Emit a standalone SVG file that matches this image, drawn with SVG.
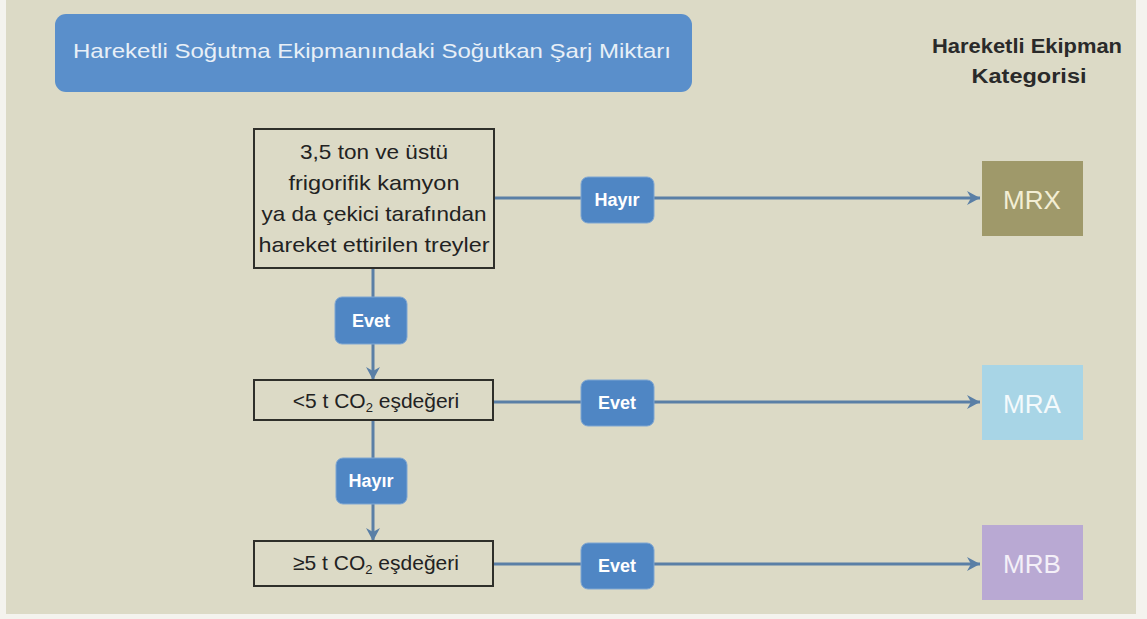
<svg xmlns="http://www.w3.org/2000/svg" width="1147" height="619" viewBox="0 0 1147 619">
<defs>
<style>
.bg{fill:#dcdac6}
.box{fill:#dcdac6;stroke:#2f2f2a;stroke-width:2}
.t{font-family:"Liberation Sans",Arial,sans-serif;fill:#222;font-size:21px;text-anchor:middle}
.h{font-family:"Liberation Sans",Arial,sans-serif;fill:#2a2a2a;font-size:20px;font-weight:bold;text-anchor:middle}
.badge{fill:#4f86c4;stroke:#7fa6d2;stroke-width:1}
.bt{font-family:"Liberation Sans",Arial,sans-serif;fill:#ffffff;font-size:18px;font-weight:bold;text-anchor:middle}
.cat{font-family:"Liberation Sans",Arial,sans-serif;font-size:26px;text-anchor:middle}
.ln{stroke:#5a7fa6;stroke-width:3;fill:none}
</style>
<marker id="ah" markerUnits="userSpaceOnUse" markerWidth="18" markerHeight="18" refX="14" refY="8" orient="auto">
<path d="M1,1 L14,8 L1,15 L5,8 Z" fill="#5a7fa6"/>
</marker>
</defs>
<rect x="0" y="0" width="1147" height="619" fill="#f4f3ee"/>
<rect class="bg" x="6" y="0" width="1130" height="614"/>

<g id="connectors">
<line class="ln" x1="494" y1="198" x2="980" y2="198" marker-end="url(#ah)"/>
<line class="ln" x1="494" y1="402" x2="980" y2="402" marker-end="url(#ah)"/>
<line class="ln" x1="494" y1="564" x2="980" y2="564" marker-end="url(#ah)"/>
<line class="ln" x1="373" y1="268" x2="373" y2="380" marker-end="url(#ah)"/>
<line class="ln" x1="373" y1="420" x2="373" y2="541" marker-end="url(#ah)"/>
</g>

<g id="title">
<rect x="55" y="14" width="637" height="78" rx="11" fill="#5a8fcb"/>
<text x="372" y="58" font-family="'Liberation Sans',Arial,sans-serif" font-size="21" fill="#e8eff7" text-anchor="middle" textLength="598" lengthAdjust="spacingAndGlyphs">Hareketli Soğutma Ekipmanındaki Soğutkan Şarj Miktarı</text>
</g>

<g id="category-header">
<text class="h" x="1027" y="53" textLength="190" lengthAdjust="spacingAndGlyphs">Hareketli Ekipman</text>
<text class="h" x="1029" y="83" textLength="115" lengthAdjust="spacingAndGlyphs">Kategorisi</text>
</g>

<g id="q1">
<rect class="box" x="254" y="129" width="240" height="139"/>
<text class="t" x="374" y="159" textLength="148" lengthAdjust="spacingAndGlyphs">3,5 ton ve üstü</text>
<text class="t" x="374" y="190" textLength="171" lengthAdjust="spacingAndGlyphs">frigorifik kamyon</text>
<text class="t" x="374" y="221" textLength="225" lengthAdjust="spacingAndGlyphs">ya da çekici tarafından</text>
<text class="t" x="374" y="252" textLength="231" lengthAdjust="spacingAndGlyphs">hareket ettirilen treyler</text>
</g>

<g id="q2">
<rect class="box" x="254" y="380" width="239" height="40"/>
<text class="t" x="376" y="408">&lt;5 t CO<tspan font-size="13" dy="4">2</tspan><tspan dy="-4"> eşdeğeri</tspan></text>
</g>

<g id="q3">
<rect class="box" x="254" y="541" width="239" height="45"/>
<text class="t" x="376" y="570">≥5 t CO<tspan font-size="13" dy="4">2</tspan><tspan dy="-4"> eşdeğeri</tspan></text>
</g>

<g id="b-hayir1">
<rect class="badge" x="581" y="177" width="73" height="46" rx="7"/>
<text class="bt" x="617" y="206">Hayır</text>
</g>
<g id="b-evet1">
<rect class="badge" x="335" y="297" width="72" height="47" rx="7"/>
<text class="bt" x="371" y="327">Evet</text>
</g>
<g id="b-evet2">
<rect class="badge" x="581" y="380" width="73" height="46" rx="7"/>
<text class="bt" x="617" y="409">Evet</text>
</g>
<g id="b-hayir2">
<rect class="badge" x="336" y="458" width="71" height="46" rx="7"/>
<text class="bt" x="371" y="487">Hayır</text>
</g>
<g id="b-evet3">
<rect class="badge" x="581" y="543" width="73" height="46" rx="7"/>
<text class="bt" x="617" y="572">Evet</text>
</g>

<g id="mrx">
<rect x="982" y="161" width="101" height="75" fill="#9f996a"/>
<text class="cat" x="1032" y="209" fill="#f3eed4">MRX</text>
</g>
<g id="mra">
<rect x="982" y="365" width="101" height="75" fill="#a8d5e6"/>
<text class="cat" x="1032" y="413" fill="#f4fafc">MRA</text>
</g>
<g id="mrb">
<rect x="982" y="525" width="101" height="75" fill="#b9a9d3"/>
<text class="cat" x="1032" y="573" fill="#f4f0f8">MRB</text>
</g>
</svg>
